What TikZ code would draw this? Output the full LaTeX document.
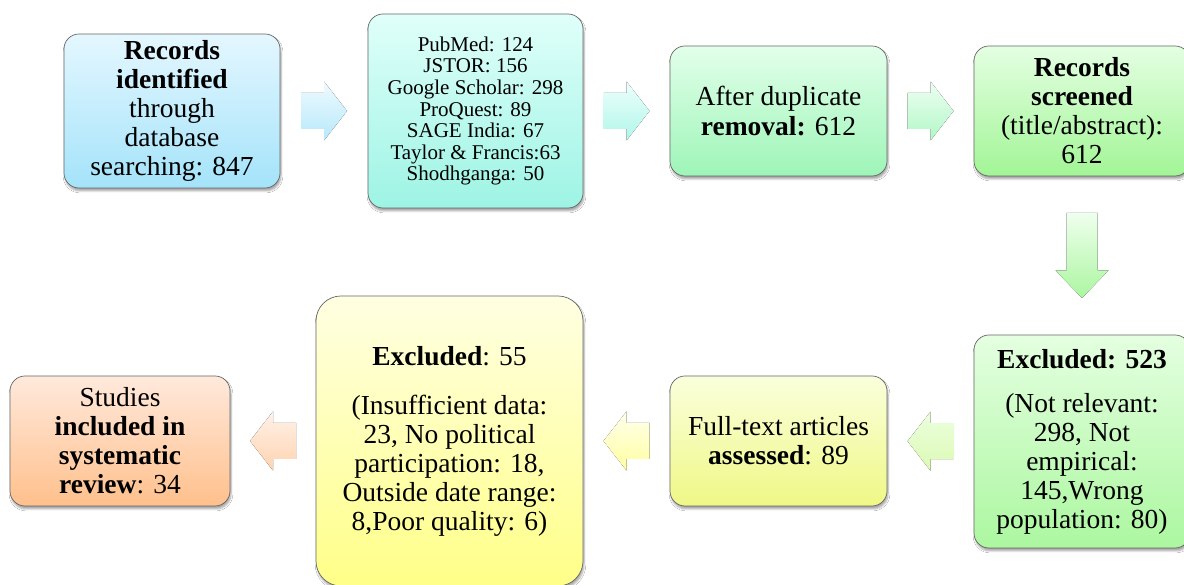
\documentclass[tikz,border=0pt]{standalone}
\usepackage{fontspec}
\setmainfont{Liberation Serif}
\usetikzlibrary{shadows.blur,calc}
\definecolor{b1t}{HTML}{E4F7FF}\definecolor{b1b}{HTML}{A4E3FA}
\definecolor{b2t}{HTML}{E0FFFA}\definecolor{b2b}{HTML}{9DF4E4}
\definecolor{b3t}{HTML}{E2FFEA}\definecolor{b3b}{HTML}{9EF5B8}
\definecolor{b4t}{HTML}{E4FFE2}\definecolor{b4b}{HTML}{A2F596}
\definecolor{b5t}{HTML}{E4FFE0}\definecolor{b5b}{HTML}{ACF7A0}
\definecolor{b6t}{HTML}{FAFFDC}\definecolor{b6b}{HTML}{EFF886}
\definecolor{b7t}{HTML}{FFFFE2}\definecolor{b7b}{HTML}{FFFF88}
\definecolor{b8t}{HTML}{FFE9DC}\definecolor{b8b}{HTML}{FFC08C}
\tikzset{
  box/.style={draw=black!60, line width=0.7pt, rounded corners=15pt, align=center,
    font=\fontsize{27.5}{29}\selectfont, inner sep=2pt,
    blur shadow={shadow xshift=1pt, shadow yshift=-3pt, shadow blur steps=6, shadow opacity=35}},
  small/.style={font=\fontsize{21}{21.6}\selectfont},
  arr/.style={draw=none},
}
\newcommand\rightarr[3]{\fill[arr, top color=#2, bottom color=#3, shift={(#1)}]
  (-23,-18) -- (0,-18) -- (0,-29.5) -- (23,0) -- (0,29.5) -- (0,18) -- (-23,18) -- cycle;}
\newcommand\leftarr[3]{\fill[arr, top color=#2, bottom color=#3, shift={(#1)}]
  (23,-18) -- (0,-18) -- (0,-29.5) -- (-23,0) -- (0,29.5) -- (0,18) -- (23,18) -- cycle;}
\newcommand\downarr[3]{\fill[arr, top color=#2, bottom color=#3, shift={(#1)}]
  (-15.5,42.5) -- (15.5,42.5) -- (15.5,-15) -- (26.5,-15) -- (0,-42.5) -- (-26.5,-15) -- (-15.5,-15) -- cycle;}
\begin{document}
\begin{tikzpicture}[x=1pt,y=1pt]
\useasboundingbox (0,0) rectangle (1184,585);
\fill[white] (0,0) rectangle (1184,585);
% top row
\node[box, minimum width=216pt, minimum height=154pt, top color=b1t, bottom color=b1b] (b1) at (172,474)
  {\textbf{Records}\\\textbf{identified}\\through\\database\\searching: 847};
\node[box, small, minimum width=215pt, minimum height=194pt, top color=b2t, bottom color=b2b] (b2) at (475.5,474)
  {PubMed: 124\\JSTOR: 156\\Google Scholar: 298\\ProQuest: 89\\SAGE India: 67\\Taylor \& Francis:63\\Shodhganga: 50};
\node[box, minimum width=217pt, minimum height=130pt, top color=b3t, bottom color=b3b] (b3) at (778.5,474)
  {After duplicate\\[1pt]\textbf{removal:} 612};
\node[box, minimum width=216pt, minimum height=130pt, top color=b4t, bottom color=b4b] (b4) at (1082,474)
  {\textbf{Records}\\\textbf{screened}\\(title/abstract):\\612};
% bottom row
\node[box, minimum width=216pt, minimum height=213pt, top color=b5t, bottom color=b5b] (b5) at (1082,143.5)
  {\textbf{Excluded: 523}\\[15pt](Not relevant:\\298, Not\\empirical:\\145,Wrong\\population: 80)};
\node[box, minimum width=217pt, minimum height=130pt, top color=b6t, bottom color=b6b] (b6) at (778.5,144)
  {Full-text articles\\\textbf{assessed}: 89};
\node[box, rounded corners=25pt, minimum width=267pt, minimum height=290pt, top color=b7t, bottom color=b7b] (b7) at (449.5,144)
  {\textbf{Excluded}: 55\\[20pt](Insufficient data:\\23, No political\\participation: 18,\\Outside date range:\\8,Poor quality: 6)};
\node[box, minimum width=220pt, minimum height=130pt, top color=b8t, bottom color=b8b] (b8) at (120,144)
  {Studies\\\textbf{included in}\\\textbf{systematic}\\\textbf{review}: 34};
% arrows
\coordinate (a12) at ($(b1.east)!0.5!(b2.west)$);
\coordinate (a23) at ($(b2.east)!0.5!(b3.west)$);
\coordinate (a34) at ($(b3.east)!0.5!(b4.west)$);
\coordinate (a45) at ($(b4.south)!0.5!(b5.north)$);
\coordinate (a56) at ($(b5.west)!0.5!(b6.east)$);
\coordinate (a67) at ($(b6.west)!0.5!(b7.east)$);
\coordinate (a78) at ($(b7.west)!0.5!(b8.east)$);
\rightarr{a12}{b1t!60!white}{b1b!80!white}
\rightarr{a23}{b2t!60!white}{b2b!80!white}
\rightarr{a34}{b3t!60!white}{b3b!80!white}
\downarr{a45}{b4t!60!white}{b4b!90!white}
\leftarr{a56}{b5t!70!b6t}{b5b!50!b6b!70!white}
\leftarr{a67}{b7t!60!white}{b7b!80!white}
\leftarr{a78}{b8t!60!white}{b8b!70!white}
\end{tikzpicture}
\end{document}
